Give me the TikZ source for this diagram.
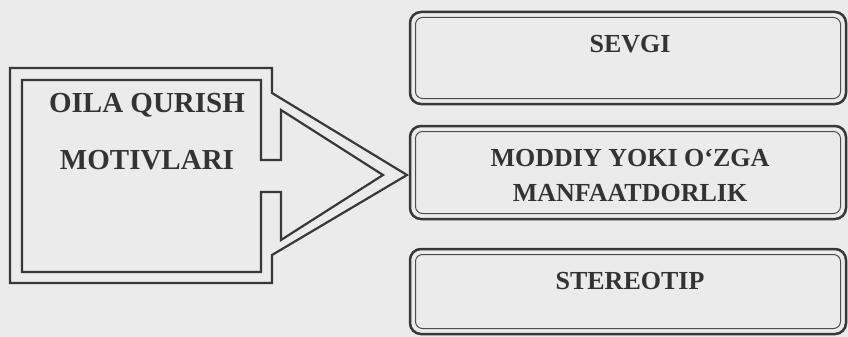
\documentclass[tikz,border=0pt]{standalone}
\usepackage{fontspec}
\setmainfont{Liberation Serif}
\begin{document}
\begin{tikzpicture}[x=1pt,y=-1pt,
  ink/.style={draw=black!78, line width=2.2pt, line join=miter},
  outerbox/.style={draw=black!78, line width=2.5pt, rounded corners=11pt},
  innerbox/.style={draw=black!70, line width=1pt, rounded corners=7pt},
  lbl/.style={text=black!80, font=\bfseries\fontsize{29}{34}\selectfont, align=center, inner sep=0pt},
  rlbl/.style={text=black!80, font=\bfseries\fontsize{26}{35}\selectfont, align=center, inner sep=0pt}]
\fill[black!8] (0,0) rectangle (848,337);
\useasboundingbox (0,0) rectangle (848,337);
% left arrow shape
\coordinate (tipo) at (407,175);
\coordinate (tipi) at (383,175);
\draw[ink] (10,68) -- (272,68) -- (272,93) -- (tipo) -- (272,255) -- (272,283) -- (10,283) -- cycle;
\draw[ink] (22,80) -- (261,80) -- (261,160) -- (281,160) -- (281,110) -- (tipi) -- (281,240) -- (281,192) -- (261,192) -- (261,272) -- (22,272) -- cycle;
\node[lbl] (t1) at (147,105) {OILA QURISH};
\node[lbl] (t2) at (147,160) {MOTIVLARI};
% right boxes
\draw[outerbox] (410,12) rectangle (846,104);
\draw[innerbox] (415.5,17.5) rectangle (840.5,98.5);
\node[rlbl] (b1) at (630,44) {SEVGI};
\draw[outerbox] (410,126) rectangle (846,219);
\draw[innerbox] (415.5,131.5) rectangle (840.5,213.5);
\node[rlbl] (b2) at (630,175) {MODDIY YOKI O‘ZGA\\MANFAATDORLIK};
\draw[outerbox] (410,249) rectangle (846,334);
\draw[innerbox] (415.5,254.5) rectangle (840.5,328.5);
\node[rlbl] (b3) at (630,281) {STEREOTIP};
\end{tikzpicture}
\end{document}
